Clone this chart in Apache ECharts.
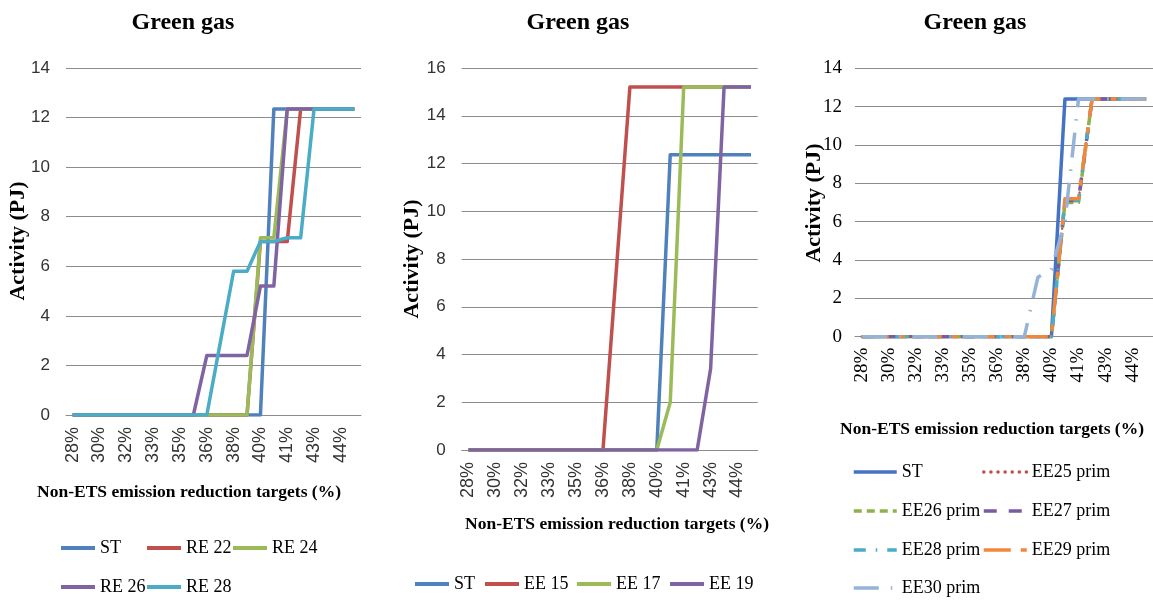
<!DOCTYPE html>
<html><head><meta charset="utf-8">
<script src="https://cdn.jsdelivr.net/npm/echarts@6/dist/echarts.min.js"></script>
<style>
html,body{margin:0;padding:0;background:#fff;width:1153px;height:602px;overflow:hidden}
.c{position:absolute;top:0;height:602px}
</style></head><body>
<div id="c1" class="c" style="left:0;width:380px"></div>
<div id="c2" class="c" style="left:380px;width:390px"></div>
<div id="c3" class="c" style="left:770px;width:383px"></div>
<script>
// Non-ETS emission reduction targets (%), one per category
const targets = [28.4, 29.2, 30.0, 30.8, 31.6, 32.4, 33.2, 34.0, 34.8, 35.6, 36.4,
                 37.2, 38.0, 38.8, 39.6, 40.4, 41.2, 42.0, 42.8, 43.6, 44.4, 45.2];

// Panel 1 (RE scenarios), Activity in PJ
const p1_ST   = [0,0,0,0,0,0,0,0,0,0,0,0,0,0,0,12.35,12.35,12.35,12.35,12.35,12.35,12.35];
const p1_RE22 = [0,0,0,0,0,0,0,0,0,0,0,0,0,0,7.0,7.0,7.0,12.35,12.35,12.35,12.35,12.35];
const p1_RE24 = [0,0,0,0,0,0,0,0,0,0,0,0,0,0,7.15,7.15,12.35,12.35,12.35,12.35,12.35,12.35];
const p1_RE26 = [0,0,0,0,0,0,0,0,0,0,2.4,2.4,2.4,2.4,5.2,5.2,12.35,12.35,12.35,12.35,12.35,12.35];
const p1_RE28 = [0,0,0,0,0,0,0,0,0,0,0,2.9,5.8,5.8,7.0,7.0,7.15,7.15,12.35,12.35,12.35,12.35];

// Panel 2 (EE scenarios)
const p2_ST   = [0,0,0,0,0,0,0,0,0,0,0,0,0,0,0,12.37,12.37,12.37,12.37,12.37,12.37,12.37];
const p2_EE15 = [0,0,0,0,0,0,0,0,0,0,0,7.6,15.2,15.2,15.2,15.2,15.2,15.2,15.2,15.2,15.2,15.2];
const p2_EE17 = [0,0,0,0,0,0,0,0,0,0,0,0,0,0,0,2.0,15.2,15.2,15.2,15.2,15.2,15.2];
const p2_EE19 = [0,0,0,0,0,0,0,0,0,0,0,0,0,0,0,0,0,0,3.4,15.2,15.2,15.2];

// Panel 3 (EE prim scenarios)
const p3_ST     = [0,0,0,0,0,0,0,0,0,0,0,0,0,0,0,12.4,12.4,12.4,12.4,12.4,12.4,12.4];
const p3_EE25   = [0,0,0,0,0,0,0,0,0,0,0,0,0,0,0,7.1,7.1,12.4,12.4,12.4,12.4,12.4];
const p3_EE26   = [0,0,0,0,0,0,0,0,0,0,0,0,0,0,0,7.0,7.0,12.4,12.4,12.4,12.4,12.4];
const p3_EE27   = [0,0,0,0,0,0,0,0,0,0,0,0,0,0,0,7.1,7.1,12.4,12.4,12.4,12.4,12.4];
const p3_EE28   = [0,0,0,0,0,0,0,0,0,0,0,0,0,0,0,7.1,7.1,12.4,12.4,12.4,12.4,12.4];
const p3_EE29   = [0,0,0,0,0,0,0,0,0,0,0,0,0,0,0,7.2,7.2,12.4,12.4,12.4,12.4,12.4];
const p3_EE30   = [0,0,0,0,0,0,0,0,0,0,0,0,0,3.1,3.5,6.0,12.4,12.4,12.4,12.4,12.4,12.4];

// y-axis ticks
const yTicks1 = [0,2,4,6,8,10,12,14];
const yTicks2 = [0,2,4,6,8,10,12,14,16];
const yTicks3 = [0,2,4,6,8,10,12,14];

const titleText = 'Green gas';
const xName = 'Non-ETS emission reduction targets (%)';
const yName = 'Activity (PJ)';

const SERIF = '"Liberation Serif", "Times New Roman", serif';
const SANS = '"Liberation Sans", Arial, sans-serif';
const GRID = '#8c8c8c';

function textEl(x, y, text, size, rot) {
  return {
    type: 'text', x: x, y: y, rotation: rot || 0,
    style: { text: text, font: 'bold ' + size + 'px ' + SERIF, fill: '#000',
             textAlign: 'center', textVerticalAlign: 'middle' }
  };
}

function build(el, cfg) {
  const chart = echarts.init(document.getElementById(el), null, {renderer: 'canvas'});
  const ticks = cfg.yTicks;
  const option = {
    animation: false,
    backgroundColor: '#fff',
    grid: cfg.grid,
    xAxis: {
      type: 'category', data: targets, boundaryGap: true,
      axisLine: { lineStyle: { color: GRID, width: 1 } },
      axisTick: { show: false },
      axisLabel: {
        interval: 1, rotate: 90, margin: cfg.xMargin,
        fontFamily: cfg.tickFont, fontSize: cfg.xFont, color: cfg.tickColor,
        formatter: function (v) { return Math.round(Number(v)) + '%'; }
      }
    },
    yAxis: {
      type: 'value', min: ticks[0], max: ticks[ticks.length - 1], interval: ticks[1] - ticks[0],
      axisLine: { show: false }, axisTick: { show: false },
      splitLine: { lineStyle: { color: GRID, width: 1 } },
      axisLabel: { margin: cfg.yMargin, fontFamily: cfg.tickFont, fontSize: cfg.yFont, color: cfg.tickColor }
    },
    legend: cfg.legends.map(function (l) {
      return {
        left: l.x, top: l.y - 10, padding: 0, itemGap: 5,
        itemWidth: cfg.iconW, itemHeight: 20,
        data: [l.name],
        itemStyle: { opacity: 0 },
        lineStyle: { width: cfg.iconLW },
        textStyle: { fontFamily: SERIF, fontSize: 18, color: '#000', lineHeight: 20 }
      };
    }),
    graphic: cfg.graphic,
    series: cfg.series.map(function (s) {
      return {
        name: s.name, type: 'line', data: s.data, symbol: 'none',
        color: s.color,
        lineStyle: Object.assign({ width: 3.5, color: s.color, cap: 'butt', join: 'round' }, s.ls || {}),
        emphasis: { disabled: true }
      };
    })
  };
  chart.setOption(option);
}

// Panel 1
build('c1', {
  grid: { left: 66, top: 68, width: 295, height: 347 },
  yTicks: yTicks1, tickFont: SANS, tickColor: '#333', xFont: 18, yFont: 17, xMargin: 12, yMargin: 16,
  iconW: 34, iconLW: 4,
  legends: [
    { name: 'ST', x: 59, y: 548 }, { name: 'RE 22', x: 145, y: 548 }, { name: 'RE 24', x: 231, y: 548 },
    { name: 'RE 26', x: 59, y: 587 }, { name: 'RE 28', x: 145, y: 587 }
  ],
  graphic: [
    textEl(183, 23, titleText, 24),
    textEl(189, 492, xName, 17.5),
    textEl(18, 241, yName, 22, Math.PI / 2)
  ],
  series: [
    { name: 'ST', data: p1_ST, color: '#4F81BD' },
    { name: 'RE 22', data: p1_RE22, color: '#C0504D' },
    { name: 'RE 24', data: p1_RE24, color: '#9BBB59' },
    { name: 'RE 26', data: p1_RE26, color: '#8064A2' },
    { name: 'RE 28', data: p1_RE28, color: '#4BACC6' }
  ]
});

// Panel 2
build('c2', {
  grid: { left: 81.7, top: 68, width: 296, height: 382 },
  yTicks: yTicks2, tickFont: SANS, tickColor: '#333', xFont: 18, yFont: 17, xMargin: 12, yMargin: 16,
  iconW: 34, iconLW: 4,
  legends: [
    { name: 'ST', x: 33, y: 584 }, { name: 'EE 15', x: 103, y: 584 },
    { name: 'EE 17', x: 195, y: 584 }, { name: 'EE 19', x: 288, y: 584 }
  ],
  graphic: [
    textEl(198, 23, titleText, 24),
    textEl(237, 524, xName, 17.5),
    textEl(32, 259, yName, 22, Math.PI / 2)
  ],
  series: [
    { name: 'ST', data: p2_ST, color: '#4F81BD' },
    { name: 'EE 15', data: p2_EE15, color: '#C0504D' },
    { name: 'EE 17', data: p2_EE17, color: '#9BBB59' },
    { name: 'EE 19', data: p2_EE19, color: '#8064A2' }
  ]
});

// Panel 3
build('c3', {
  grid: { left: 85, top: 68.3, width: 303.6, height: 268.4 },
  yTicks: yTicks3, tickFont: SERIF, tickColor: '#000', xFont: 19, yFont: 19, xMargin: 11, yMargin: 13,
  iconW: 43, iconLW: 3.5,
  legends: [
    { name: 'ST', x: 82, y: 472 }, { name: 'EE25 prim', x: 212, y: 472 },
    { name: 'EE26 prim', x: 82, y: 511 }, { name: 'EE27 prim', x: 212, y: 511 },
    { name: 'EE28 prim', x: 82, y: 550 }, { name: 'EE29 prim', x: 212, y: 550 },
    { name: 'EE30 prim', x: 82, y: 588 }
  ],
  graphic: [
    textEl(205, 23, titleText, 24),
    textEl(222, 429, xName, 17.5),
    textEl(44, 203, yName, 22, Math.PI / 2)
  ],
  series: [
    { name: 'ST', data: p3_ST, color: '#4472C4' },
    { name: 'EE25 prim', data: p3_EE25, color: '#C0504D', ls: { type: [0.1, 7], cap: 'round', width: 2.5 } },
    { name: 'EE26 prim', data: p3_EE26, color: '#8DB249', ls: { type: [8, 5] } },
    { name: 'EE27 prim', data: p3_EE27, color: '#7A5BA0', ls: { type: [13, 12] } },
    { name: 'EE28 prim', data: p3_EE28, color: '#4BACC6', ls: { type: [12, 10, 1.5, 10] } },
    { name: 'EE29 prim', data: p3_EE29, color: '#F0883C', ls: { type: [27, 10, 6, 10] } },
    { name: 'EE30 prim', data: p3_EE30, color: '#95B3D7', ls: { type: [25, 12, 1.5, 12] } }
  ]
});
</script>
</body></html>
